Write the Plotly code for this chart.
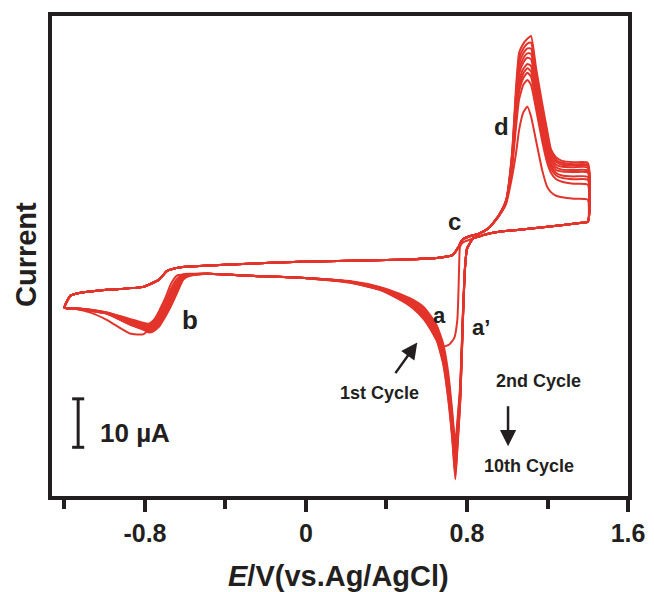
import plotly.graph_objects as go

RED = '#e3342b'
INK = '#231f20'

# ---------------- data (E in V vs Ag/AgCl, current in µA, relative) -------------
# positive-going sweep, common part (-1.2 V -> 0.91 V)
fwd_E = [-1.2, -1.17, -1.12, -0.99, -0.81, -0.73, -0.69, -0.63, -0.58, -0.38,
         -0.03, 0.22, 0.46, 0.66, 0.73, 0.757, 0.776, 0.81, 0.86, 0.91]
fwd_I = [-9.5, -7.0, -6.4, -5.8, -5.2, -3.7, -1.9, -1.2, -1.0, -0.6,
         0.0, 0.2, 0.4, 0.8, 1.4, 3.0, 4.5, 5.2, 5.8, 7.0]

# oxidation peak d region, per cycle (cycle 1 .. cycle 10)
d_E = [0.96, 0.995, 1.024, 1.044, 1.059, 1.08, 1.10, 1.118, 1.143, 1.173,
       1.198, 1.218, 1.243, 1.272, 1.33, 1.4]
d_I = [
    [9.5, 12.0, 17.5, 22.5, 27.2, 30.8, 32.0, 30.0, 25.0, 19.0, 15.5, 14.3, 13.6, 13.3, 13.0, 12.8],
    [9.6, 12.4, 19.5, 28.0, 33.5, 36.5, 37.5, 36.5, 31.5, 25.0, 20.5, 18.3, 17.0, 16.5, 16.1, 15.9],
    [9.6, 12.5, 20.0, 29.4, 35.1, 37.9, 39.0, 38.2, 32.9, 26.3, 21.6, 19.1, 17.8, 17.3, 17.0, 16.9],
    [9.6, 12.5, 20.3, 30.3, 36.2, 38.9, 39.9, 39.3, 33.9, 27.2, 22.4, 19.7, 18.3, 17.8, 17.6, 17.5],
    [9.6, 12.6, 20.7, 31.2, 37.2, 39.8, 40.8, 40.4, 34.8, 28.0, 23.1, 20.2, 18.9, 18.6, 18.5, 18.4],
    [9.7, 12.6, 21.1, 32.4, 38.7, 41.1, 42.1, 41.8, 36.1, 29.2, 24.1, 20.9, 19.5, 19.0, 18.9, 18.8],
    [9.7, 12.7, 21.5, 33.3, 39.7, 42.0, 43.0, 42.9, 37.0, 30.1, 24.9, 21.5, 20.0, 19.6, 19.5, 19.4],
    [9.7, 12.7, 21.8, 34.2, 40.8, 43.0, 44.0, 44.0, 38.0, 30.9, 25.6, 22.1, 20.6, 20.0, 19.9, 19.8],
    [9.7, 12.8, 22.1, 35.1, 41.9, 44.0, 45.0, 45.2, 39.0, 31.9, 26.4, 22.6, 21.0, 20.4, 20.1, 20.0],
    [9.7, 12.8, 22.5, 36.1, 43.1, 45.0, 46.0, 46.6, 40.0, 32.8, 27.2, 23.1, 21.5, 20.8, 20.5, 20.4],
]

# negative-going sweep, common top part (1.4 V -> 0.83 V)
rev_top_E = [1.4, 1.36, 1.2, 1.06, 0.96, 0.91, 0.86, 0.83]
rev_top_I = [8.2, 8.0, 7.2, 6.6, 6.2, 5.8, 5.2, 4.8]

# reduction peak a (1st cycle)
a1_E = [0.81, 0.79, 0.775, 0.765, 0.761, 0.757, 0.752, 0.737, 0.712, 0.682,
        0.657, 0.628, 0.588, 0.528, 0.464, 0.365, 0.216]
a1_I = [4.5, 4.2, 3.8, 3.0, -1.0, -7.0, -12.0, -15.7, -17.1, -17.5,
        -16.7, -14.5, -11.0, -8.9, -7.4, -5.6, -4.1]

# reduction peak a' (cycles 2 .. 10)
a_E = [0.81, 0.80, 0.79, 0.78, 0.767, 0.752, 0.742, 0.727, 0.707, 0.682,
       0.648, 0.588, 0.528, 0.464, 0.365, 0.216]
a_I = [
    [3.5, 2.8, -1.0, -10.0, -25.0, -33.0, -37.5, -31.0, -23.0, -17.0, -13.0, -9.5, -7.8, -6.6, -5.2, -4.0],
    [3.5, 2.7, -1.1, -10.4, -25.6, -34.0, -38.8, -32.0, -24.0, -17.8, -13.6, -9.9, -8.1, -6.8, -5.3, -4.1],
    [3.5, 2.7, -1.2, -10.6, -26.1, -34.9, -39.9, -32.8, -24.8, -18.3, -14.0, -10.3, -8.3, -7.0, -5.4, -4.1],
    [3.5, 2.7, -1.3, -10.9, -26.6, -35.7, -40.9, -33.6, -25.5, -18.9, -14.4, -10.7, -8.6, -7.2, -5.5, -4.1],
    [3.5, 2.7, -1.3, -11.2, -27.0, -36.4, -41.8, -34.3, -26.2, -19.4, -14.8, -11.0, -8.8, -7.3, -5.5, -4.2],
    [3.5, 2.6, -1.4, -11.4, -27.4, -37.0, -42.6, -34.9, -26.8, -19.9, -15.1, -11.2, -9.0, -7.4, -5.6, -4.2],
    [3.5, 2.6, -1.5, -11.6, -27.8, -37.6, -43.4, -35.6, -27.4, -20.4, -15.5, -11.5, -9.2, -7.6, -5.7, -4.2],
    [3.5, 2.6, -1.5, -11.8, -28.2, -38.3, -44.2, -36.2, -28.0, -20.8, -15.8, -11.8, -9.3, -7.7, -5.7, -4.3],
    [3.5, 2.5, -1.6, -12.0, -28.5, -38.8, -44.9, -36.7, -28.5, -21.2, -16.1, -12.0, -9.5, -7.8, -5.8, -4.3],
]

# negative-going sweep, common lower part
low_E = [-0.03, -0.28, -0.49]
low_I = [-3.3, -2.9, -2.5]

# reduction peak b, per cycle (cycle 1 .. cycle 10)
b_E = [-0.58, -0.61, -0.64, -0.67, -0.70, -0.73, -0.76, -0.78, -0.81, -0.875,
       -0.99, -1.07, -1.15, -1.2]
b_I = [
    [-2.6, -2.7, -2.8, -4.5, -7.6, -10.2, -12.6, -13.9, -15.0, -14.8, -12.0, -10.5, -9.7, -9.5],
    [-2.5, -2.6, -3.5, -5.5, -8.4, -10.5, -12.2, -12.8, -12.6, -11.8, -10.5, -9.9, -9.6, -9.5],
    [-2.6, -2.8, -4.0, -6.1, -8.9, -11.0, -12.6, -13.1, -12.9, -12.0, -10.5, -9.9, -9.6, -9.5],
    [-2.6, -2.9, -4.4, -6.7, -9.4, -11.4, -12.9, -13.4, -13.0, -12.2, -10.6, -10.0, -9.6, -9.5],
    [-2.7, -3.1, -4.8, -7.2, -9.8, -11.8, -13.2, -13.6, -13.2, -12.4, -10.6, -10.0, -9.6, -9.5],
    [-2.7, -3.2, -5.2, -7.6, -10.1, -12.2, -13.5, -13.8, -13.4, -12.5, -10.6, -10.0, -9.7, -9.5],
    [-2.8, -3.4, -5.5, -8.0, -10.5, -12.5, -13.7, -14.0, -13.6, -12.6, -10.6, -10.0, -9.7, -9.5],
    [-2.8, -3.5, -5.8, -8.4, -10.8, -12.8, -14.0, -14.2, -13.7, -12.8, -10.7, -10.1, -9.7, -9.5],
    [-2.9, -3.6, -6.1, -8.8, -11.1, -13.1, -14.2, -14.4, -13.9, -12.9, -10.7, -10.1, -9.7, -9.5],
    [-2.9, -3.7, -6.4, -9.1, -11.4, -13.4, -14.4, -14.6, -14.0, -13.0, -10.7, -10.1, -9.7, -9.5],
]

x_major = [-0.8, 0, 0.8, 1.6]
x_labels = ['-0.8', '0', '0.8', '1.6']
x_minor = [-1.2, -0.4, 0.4, 1.2]
x_range = [-1.262, 1.6]
y_range = [-48.35, 50.7]

scale_bar_E = -1.132
scale_bar_top = -28.3
scale_bar_len = 10.0  # µA

# ---------------- figure ----------------
fig = go.Figure()
for k in range(10):
    if k == 0:
        aE, aI = a1_E, a1_I
    else:
        aE, aI = a_E, a_I[k - 1]
    E = fwd_E + d_E + rev_top_E + aE + low_E + b_E
    I = fwd_I + d_I[k] + rev_top_I + aI + low_I + b_I[k]
    fig.add_trace(go.Scatter(
        x=E, y=I, mode='lines',
        line=dict(color=RED, width=2, shape='spline', smoothing=0.5),
        hoverinfo='skip', showlegend=False))

FONT = 'Liberation Sans, Arial, sans-serif'

fig.update_xaxes(
    range=x_range, tickmode='array', tickvals=x_major, ticktext=x_labels,
    ticks='outside', ticklen=12, tickwidth=4, tickcolor=INK,
    showline=True, linewidth=4, linecolor=INK, mirror=True,
    showgrid=False, zeroline=False, automargin=False,
    tickfont=dict(family=FONT, size=25, color=INK, weight='bold'),
    minor=dict(tickvals=x_minor, ticks='outside', ticklen=9, tickwidth=4,
               tickcolor=INK, showgrid=False),
)
fig.update_yaxes(
    range=y_range, showticklabels=False, ticks='',
    showline=True, linewidth=4, linecolor=INK, mirror=True,
    showgrid=False, zeroline=False, automargin=False,
)

# axis titles
fig.add_annotation(x=338, y=576, xref='paper', yref='paper', text='<i>E</i>/V(vs.Ag/AgCl)',
                   showarrow=False, xanchor='center', yanchor='middle',
                   font=dict(family=FONT, size=29, color=INK, weight='bold'))
fig.add_annotation(x=26, y=255, xref='paper', yref='paper', text='Current',
                   textangle=-90, showarrow=False, xanchor='center', yanchor='middle',
                   font=dict(family=FONT, size=29, color=INK, weight='bold'))

def label(x, y, text, size):
    fig.add_annotation(x=x, y=y, xref='x', yref='y', text=text, showarrow=False,
                       font=dict(family=FONT, size=size, color=INK, weight='bold'))

label(-0.577, -12.0, 'b', 26)
label(0.662, -11.1, 'a', 22)
label(0.871, -13.6, 'a\u2019', 22)
label(0.737, 8.2, 'c', 24)
label(0.970, 27.8, 'd', 24)
label(0.365, -27.0, '1st Cycle', 18)
label(1.157, -24.7, '2nd Cycle', 18)
label(1.108, -42.1, '10th Cycle', 18)
label(-0.85, -35.3, '10 µA', 26)

# arrows
fig.add_annotation(x=0.553, y=-16.7, ax=0.439, ay=-23.3, xref='x', yref='y',
                   axref='x', ayref='y', showarrow=True, text='',
                   arrowhead=2, arrowsize=1.3, arrowwidth=2.5, arrowcolor=INK)
fig.add_annotation(x=1.004, y=-38.1, ax=1.004, ay=-29.5, xref='x', yref='y',
                   axref='x', ayref='y', showarrow=True, text='',
                   arrowhead=2, arrowsize=1.3, arrowwidth=2.5, arrowcolor=INK)

# scale bar (10 µA)
bar_bot = scale_bar_top - scale_bar_len
fig.add_shape(type='line', xref='x', yref='y', x0=scale_bar_E, x1=scale_bar_E,
              y0=bar_bot, y1=scale_bar_top, line=dict(color=INK, width=3))
for yy in (bar_bot, scale_bar_top):
    fig.add_shape(type='line', xref='x', yref='y', x0=scale_bar_E - 0.03,
                  x1=scale_bar_E + 0.03, y0=yy, y1=yy, line=dict(color=INK, width=3))

W, H = 654, 592
fig.update_layout(
    width=W, height=H,
    margin=dict(l=52, r=26, t=16, b=96),
    paper_bgcolor='white', plot_bgcolor='white',
    font=dict(family=FONT, color=INK),
)

# convert the title annotations from pixel to paper coordinates
pw = W - 52 - 26
ph = H - 16 - 96
for ann in fig.layout.annotations:
    if ann.xref == 'paper':
        ann.x = (ann.x - 52) / pw
        ann.y = 1 - (ann.y - 16) / ph

fig.write_html('out.html',
               config={'displayModeBar': False, 'staticPlot': True},
               post_script="document.body.style.margin='0';"
                           "document.body.style.overflow='hidden';")
